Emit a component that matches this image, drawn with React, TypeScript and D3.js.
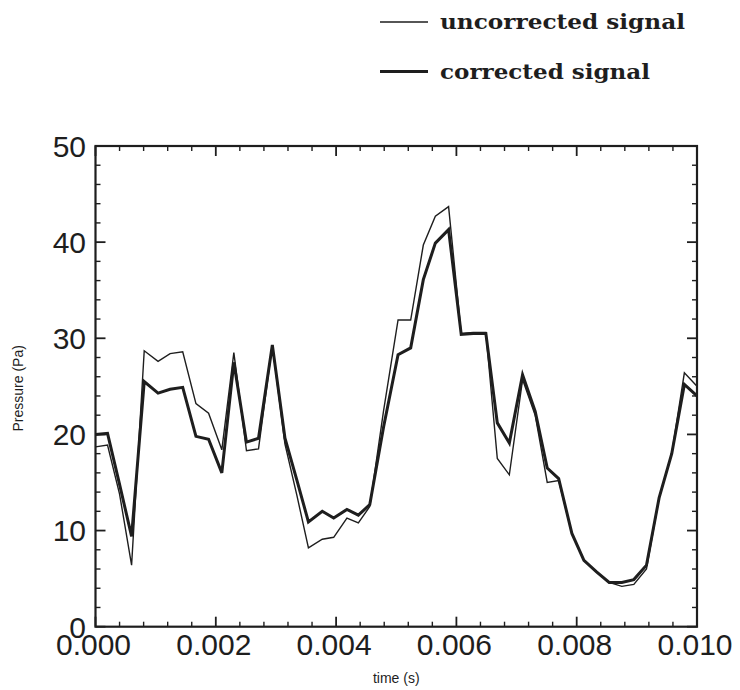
import React from "react";
import * as d3 from "d3";

const times = [
  0.0, 0.0002, 0.0004, 0.0006, 0.00081, 0.00104, 0.00124, 0.00145, 0.00167, 0.00188,
  0.0021, 0.0023, 0.00251, 0.00271, 0.00294, 0.00315, 0.00335, 0.00354, 0.00377, 0.00396,
  0.00418, 0.00437, 0.00456, 0.00479, 0.00503, 0.00524, 0.00545, 0.00565, 0.00587, 0.00608,
  0.00628, 0.00649, 0.00668, 0.00688, 0.0071, 0.00731, 0.00751, 0.0077, 0.00792, 0.00812,
  0.00833, 0.00854, 0.00875, 0.00895, 0.00916, 0.00937, 0.00958, 0.00979, 0.01,
];

const corrected = [
  20.0, 20.1, 14.8, 9.4, 25.5, 24.3, 24.7, 24.9, 19.8, 19.5,
  16.0, 27.5, 19.2, 19.6, 29.3, 19.6, 15.2, 10.9, 12.0, 11.3,
  12.2, 11.6, 12.7, 20.8, 28.3, 29.0, 36.1, 39.9, 41.3, 30.4,
  30.5, 30.5, 21.2, 19.1, 26.2, 22.4, 16.5, 15.4, 9.7, 6.9,
  5.7, 4.6, 4.6, 4.9, 6.4, 13.4, 18.0, 25.2, 24.0,
];

const uncorrected = [
  18.7, 18.9, 13.8, 6.4, 28.7, 27.6, 28.4, 28.6, 23.2, 22.2,
  18.4, 28.5, 18.3, 18.5, 29.3, 19.0, 13.6, 8.2, 9.1, 9.3,
  11.3, 10.8, 12.5, 22.5, 31.9, 31.9, 39.7, 42.7, 43.7, 30.5,
  30.6, 30.6, 17.5, 15.8, 25.7, 22.0, 15.0, 15.2, 9.7, 6.9,
  5.7, 4.6, 4.2, 4.4, 6.0, 13.4, 18.0, 26.4, 25.0,
];

const xTickLabels = ["0.000", "0.002", "0.004", "0.006", "0.008", "0.010"];
const yTickLabels = ["0", "10", "20", "30", "40", "50"];
const legendLabels = ["uncorrected signal", "corrected signal"];

const W = 740;
const H = 690;
const L = 95.5;
const R = 697;
const T = 146;
const B = 626.7;
const INK = "#1e1e1e";

export default function App() {
  const x = d3.scaleLinear().domain([0, 0.01]).range([L, R]);
  const y = d3.scaleLinear().domain([0, 50]).range([B, T]);

  const line = d3
    .line<number>()
    .x((_, i) => x(times[i]))
    .y((d) => y(d));

  const xMajor = d3.range(0, 6).map((i) => i * 0.002);
  const xMinor = d3.range(0, 26).map((i) => i * 0.0004).filter((v, i) => i % 5 !== 0);
  const yMajor = d3.range(0, 6).map((i) => i * 10);
  const yMinor = d3.range(0, 26).map((i) => i * 2).filter((v) => v % 10 !== 0);

  const majorLen = 10;
  const minorLen = 5;

  return (
    <svg
      width={W}
      height={H}
      style={{ position: "absolute", left: 0, top: 0, background: "#fff" }}
    >
      {/* Legend */}
      <g>
        <line x1={380} x2={428} y1={22} y2={22} stroke={INK} strokeWidth={1.3} />
        <text
          x={440}
          y={29}
          fontFamily="'DejaVu Serif', serif"
          fontWeight="bold"
          fontSize={20}
          fill={INK}
          textLength={245}
          lengthAdjust="spacingAndGlyphs"
        >
          {legendLabels[0]}
        </text>
        <line x1={380} x2={428} y1={71.5} y2={71.5} stroke={INK} strokeWidth={3.2} />
        <text
          x={440}
          y={78.5}
          fontFamily="'DejaVu Serif', serif"
          fontWeight="bold"
          fontSize={20}
          fill={INK}
          textLength={210}
          lengthAdjust="spacingAndGlyphs"
        >
          {legendLabels[1]}
        </text>
      </g>

      {/* Ticks */}
      <g stroke={INK}>
        {xMajor.map((v, i) => (
          <g key={"xM" + i} strokeWidth={1.8}>
            <line x1={x(v)} x2={x(v)} y1={B} y2={B - majorLen} />
            <line x1={x(v)} x2={x(v)} y1={T} y2={T + majorLen} />
          </g>
        ))}
        {xMinor.map((v, i) => (
          <g key={"xm" + i} strokeWidth={1.4}>
            <line x1={x(v)} x2={x(v)} y1={B} y2={B - minorLen} />
            <line x1={x(v)} x2={x(v)} y1={T} y2={T + minorLen} />
          </g>
        ))}
        {yMajor.map((v, i) => (
          <g key={"yM" + i} strokeWidth={1.8}>
            <line x1={L} x2={L + majorLen} y1={y(v)} y2={y(v)} />
            <line x1={R} x2={R - majorLen} y1={y(v)} y2={y(v)} />
          </g>
        ))}
        {yMinor.map((v, i) => (
          <g key={"ym" + i} strokeWidth={1.4}>
            <line x1={L} x2={L + minorLen} y1={y(v)} y2={y(v)} />
            <line x1={R} x2={R - minorLen} y1={y(v)} y2={y(v)} />
          </g>
        ))}
      </g>

      {/* Data lines */}
      <path d={line(uncorrected) || ""} fill="none" stroke={INK} strokeWidth={1.4} strokeLinejoin="miter" />
      <path d={line(corrected) || ""} fill="none" stroke={INK} strokeWidth={3} strokeLinejoin="miter" />

      {/* Frame */}
      <rect x={L} y={T} width={R - L} height={B - T} fill="none" stroke={INK} strokeWidth={2.2} />

      {/* Tick labels */}
      <g fontFamily="'Liberation Sans', Arial, sans-serif" fontSize={30} fill={INK}>
        {xMajor.map((v, i) => (
          <text key={"xl" + i} x={x(v) - 2} y={655} textAnchor="middle">
            {xTickLabels[i]}
          </text>
        ))}
        {yMajor.map((v, i) => (
          <text key={"yl" + i} x={86} y={y(v)} dy="0.36em" textAnchor="end">
            {yTickLabels[i]}
          </text>
        ))}
      </g>

      {/* Axis titles */}
      <text
        x={(L + R) / 2}
        y={683}
        textAnchor="middle"
        fontFamily="'Liberation Sans', Arial, sans-serif"
        fontSize={14}
        fill={INK}
      >
        time (s)
      </text>
      <text
        transform={`translate(23, ${(T + B) / 2 + 2}) rotate(-90)`}
        textAnchor="middle"
        fontFamily="'Liberation Sans', Arial, sans-serif"
        fontSize={14}
        fill={INK}
      >
        Pressure (Pa)
      </text>
    </svg>
  );
}
